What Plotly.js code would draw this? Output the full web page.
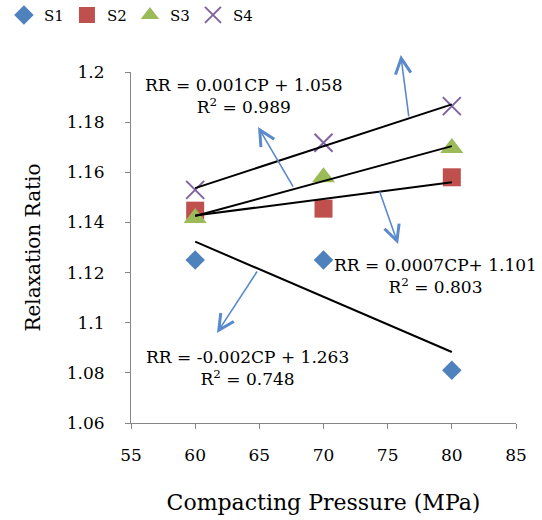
<!DOCTYPE html>
<html>
<head>
<meta charset="utf-8">
<script src="https://cdn.plot.ly/plotly-3.0.1.min.js"></script>
<style>html,body{margin:0;padding:0;background:#fff;}#chart{width:542px;height:520px;}</style>
</head>
<body>
<div id="chart"></div>
<script>
// Data
const pressure = [60, 70, 80];
const s1 = [1.125, 1.125, 1.081];
const s2 = [1.1447, 1.1455, 1.158];
const s3 = [1.1418, 1.158, 1.1697];
const s4 = [1.153, 1.1718, 1.1864];
const seriesNames = ['S1', 'S2', 'S3', 'S4'];
const equationLabels = [
  'RR = -0.002CP + 1.263<br>R<sup>2</sup> = 0.748',
  'RR = 0.0007CP+ 1.101<br>R<sup>2</sup> = 0.803',
  'RR = 0.001CP + 1.058<br>R<sup>2</sup> = 0.989',
  'RR = 0.001CP + 1.051<br>R<sup>2</sup> = 0.991'
];

const FONT = 'DejaVu Serif, serif';
const styles = [
  {symbol: 'diamond', color: '#4F81BD', size: 15},
  {symbol: 'square', color: '#C0504D', size: 18},
  {symbol: 'triangle-up', color: '#9BBB59', size: 20},
  {symbol: 'x-thin', color: '#8064A2', size: 18}
];
const allSeries = [s1, s2, s3, s4];

function linfit(xs, ys) {
  const n = xs.length;
  const mx = xs.reduce((a, b) => a + b, 0) / n;
  const my = ys.reduce((a, b) => a + b, 0) / n;
  let sxy = 0, sxx = 0;
  for (let i = 0; i < n; i++) { sxy += (xs[i] - mx) * (ys[i] - my); sxx += (xs[i] - mx) ** 2; }
  const b = sxy / sxx;
  return {slope: b, intercept: my - b * mx};
}

const traces = [];
allSeries.forEach((ys, i) => {
  const st = styles[i];
  const m = {symbol: st.symbol, color: st.color, size: st.size};
  if (st.symbol === 'x-thin') m.line = {color: st.color, width: 2};
  traces.push({x: pressure, y: ys, name: seriesNames[i], type: 'scatter', mode: 'markers', marker: m, cliponaxis: false});
});
allSeries.forEach((ys) => {
  const f = linfit(pressure, ys);
  const xe = [pressure[0], pressure[pressure.length - 1]];
  traces.push({x: xe, y: xe.map(v => f.intercept + f.slope * v), type: 'scatter', mode: 'lines',
    line: {color: '#000', width: 2}, showlegend: false, hoverinfo: 'skip'});
});

// label positions (data coords) for each equation
const labelPos = [[64.04, 1.0821], [78.69, 1.1188], [63.73, 1.1904], [77.83, 1.2152]];
// arrows: [tailX, tailY, headX, headY]
const arrows = [[64.90, 1.1210, 61.70, 1.0959], [74.33, 1.1529, 75.81, 1.1314],
                [67.70, 1.1537, 64.90, 1.1781], [76.66, 1.1817, 76.02, 1.2068]];

const annotations = [];
equationLabels.forEach((t, i) => {
  annotations.push({x: labelPos[i][0], y: labelPos[i][1], xref: 'x', yref: 'y', text: t, showarrow: false,
    xanchor: 'center', yanchor: 'middle', align: 'center', font: {family: FONT, size: 17, color: '#000'}});
});
arrows.forEach(a => {
  annotations.push({x: a[2], y: a[3], ax: a[0], ay: a[1], xref: 'x', yref: 'y', axref: 'x', ayref: 'y',
    text: '', showarrow: true, arrowhead: 5, arrowsize: 1.9, arrowwidth: 1.6, arrowcolor: '#5A8ACB', standoff: 0});
});

const layout = {
  width: 542, height: 520,
  margin: {l: 131, r: 26, t: 72, b: 97, autoexpand: false},
  paper_bgcolor: '#fff', plot_bgcolor: '#fff',
  font: {family: FONT, color: '#000', size: 17},
  showlegend: true,
  legend: {orientation: 'h', x: -0.33, xanchor: 'left', y: 1.162, yanchor: 'middle',
    font: {family: FONT, size: 15, color: '#000'}, itemwidth: 30, entrywidth: 18, bgcolor: 'rgba(0,0,0,0)'},
  xaxis: {range: [55, 85], dtick: 5, tick0: 55, showgrid: false, zeroline: false, automargin: false,
    showline: true, linecolor: '#868686', linewidth: 1, ticks: 'outside', ticklen: 5, tickcolor: '#868686',
    ticklabelstandoff: 12, tickfont: {family: FONT, size: 17, color: '#000'},
    title: {text: 'Compacting Pressure (MPa)', font: {family: FONT, size: 22, color: '#000'}, standoff: 30}},
  yaxis: {range: [1.06, 1.2], dtick: 0.02, tick0: 1.06, showgrid: false, zeroline: false, automargin: false,
    showline: true, linecolor: '#868686', linewidth: 1, ticks: 'outside', ticklen: 5, tickcolor: '#868686',
    ticklabelstandoff: 17, tickfont: {family: FONT, size: 17, color: '#000'},
    title: {text: 'Relaxation Ratio', font: {family: FONT, size: 20, color: '#000'}, standoff: 20}},
  annotations: annotations
};

Plotly.newPlot('chart', traces, layout, {displayModeBar: false, staticPlot: true});
</script>
</body>
</html>
